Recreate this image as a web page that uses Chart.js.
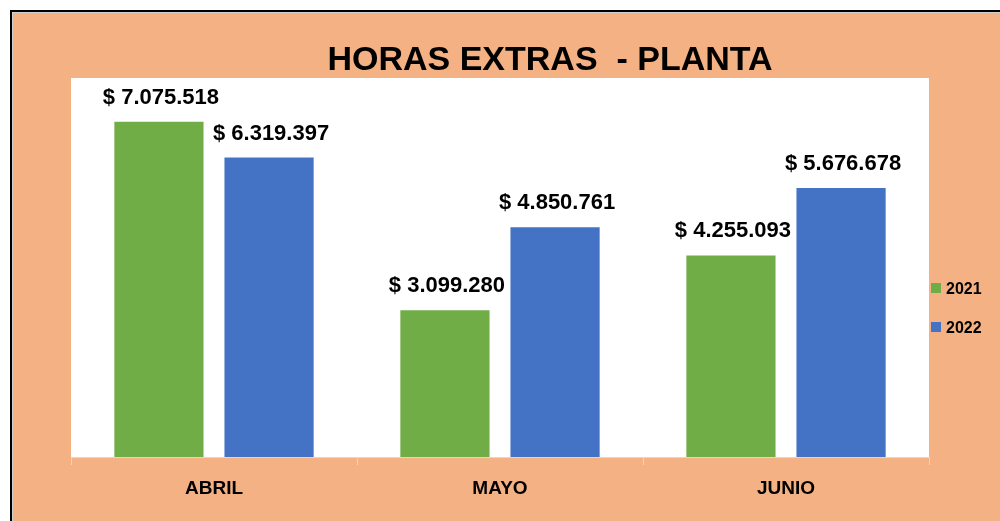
<!DOCTYPE html>
<html>
<head>
<meta charset="utf-8">
<script src="https://cdn.jsdelivr.net/npm/chart.js@4"></script>
<style>
	html, body { margin: 0; padding: 0; background: #fff; width: 1000px; height: 521px; overflow: hidden; }
	#frame {
		position: absolute; left: 10px; top: 10px; right: 0; bottom: 0;
		border-top: 2px solid #000; border-left: 2px solid #000;
		box-shadow: inset 1px 1px 0 #cfcfcf;
		background: #F4B183;
	}
	canvas { position: absolute; left: 0; top: 0; }
</style>
</head>
<body>
<div id="frame"></div>
<canvas id="chart" width="1000" height="521"></canvas>
<script>
const months = ['ABRIL', 'MAYO', 'JUNIO'];
const seriesNames = ['2021', '2022'];
const values2021 = [7075518, 3099280, 4255093];
const values2022 = [6319397, 4850761, 5676678];
const title = 'HORAS EXTRAS  - PLANTA';

const FONT = '"Liberation Sans", Arial, sans-serif';

function money(v) {
	return '$ ' + String(v).replace(/\B(?=(\d{3})+(?!\d))/g, '.');
}

// white plot background, value labels, title and legend
const decorations = {
	id: 'decorations',
	beforeDraw(chart) {
		const { ctx, chartArea: a } = chart;
		ctx.save();
		ctx.fillStyle = '#fff';
		ctx.fillRect(a.left, a.top, a.right - a.left, a.bottom - a.top);
		ctx.restore();
	},
	afterDraw(chart) {
		const { ctx } = chart;
		ctx.save();
		ctx.fillStyle = '#000';
		ctx.textAlign = 'center';
		ctx.textBaseline = 'alphabetic';

		ctx.font = 'bold 22px ' + FONT;
		chart.data.datasets.forEach((ds, i) => {
			chart.getDatasetMeta(i).data.forEach((bar, j) => {
				ctx.fillText(money(ds.data[j]), bar.x + 2, bar.y - 18);
			});
		});

		ctx.font = 'bold 34px ' + FONT;
		ctx.fillText(title, 550, 70);

		ctx.textAlign = 'left';
		ctx.font = 'bold 16px ' + FONT;
		chart.data.datasets.forEach((ds, i) => {
			const y = 283 + i * 39;
			ctx.fillStyle = ds.backgroundColor;
			ctx.fillRect(931, y, 10, 10);
			ctx.fillStyle = '#000';
			ctx.fillText(ds.label, 946, y + 11);
		});
		ctx.restore();
	}
};

const config = {
	type: 'bar',
	data: {
		labels: months,
		datasets: [
			{ label: seriesNames[0], data: values2021, backgroundColor: '#70AD47' },
			{ label: seriesNames[1], data: values2022, backgroundColor: '#4472C4' }
		]
	},
	options: {
		responsive: false,
		animation: false,
		categoryPercentage: 0.77,
		barPercentage: 0.81,
		layout: { padding: { top: 78, left: 71, right: 71, bottom: 0 } },
		plugins: {
			legend: { display: false },
			title: { display: false },
			tooltip: { enabled: false }
		},
		scales: {
			x: {
				grid: { offset: true, drawOnChartArea: false, drawTicks: true, tickLength: 8, color: '#D9D9D9' },
				border: { color: '#D9D9D9', width: 1 },
				ticks: { color: '#000', padding: 12, font: { family: FONT, size: 19, weight: 'bold' } },
				afterFit(scale) { scale.height = 64; }
			},
			y: { display: false, min: 0, max: 8000000 }
		}
	},
	plugins: [decorations]
};

new Chart(document.getElementById('chart'), config);
</script>
</body>
</html>
